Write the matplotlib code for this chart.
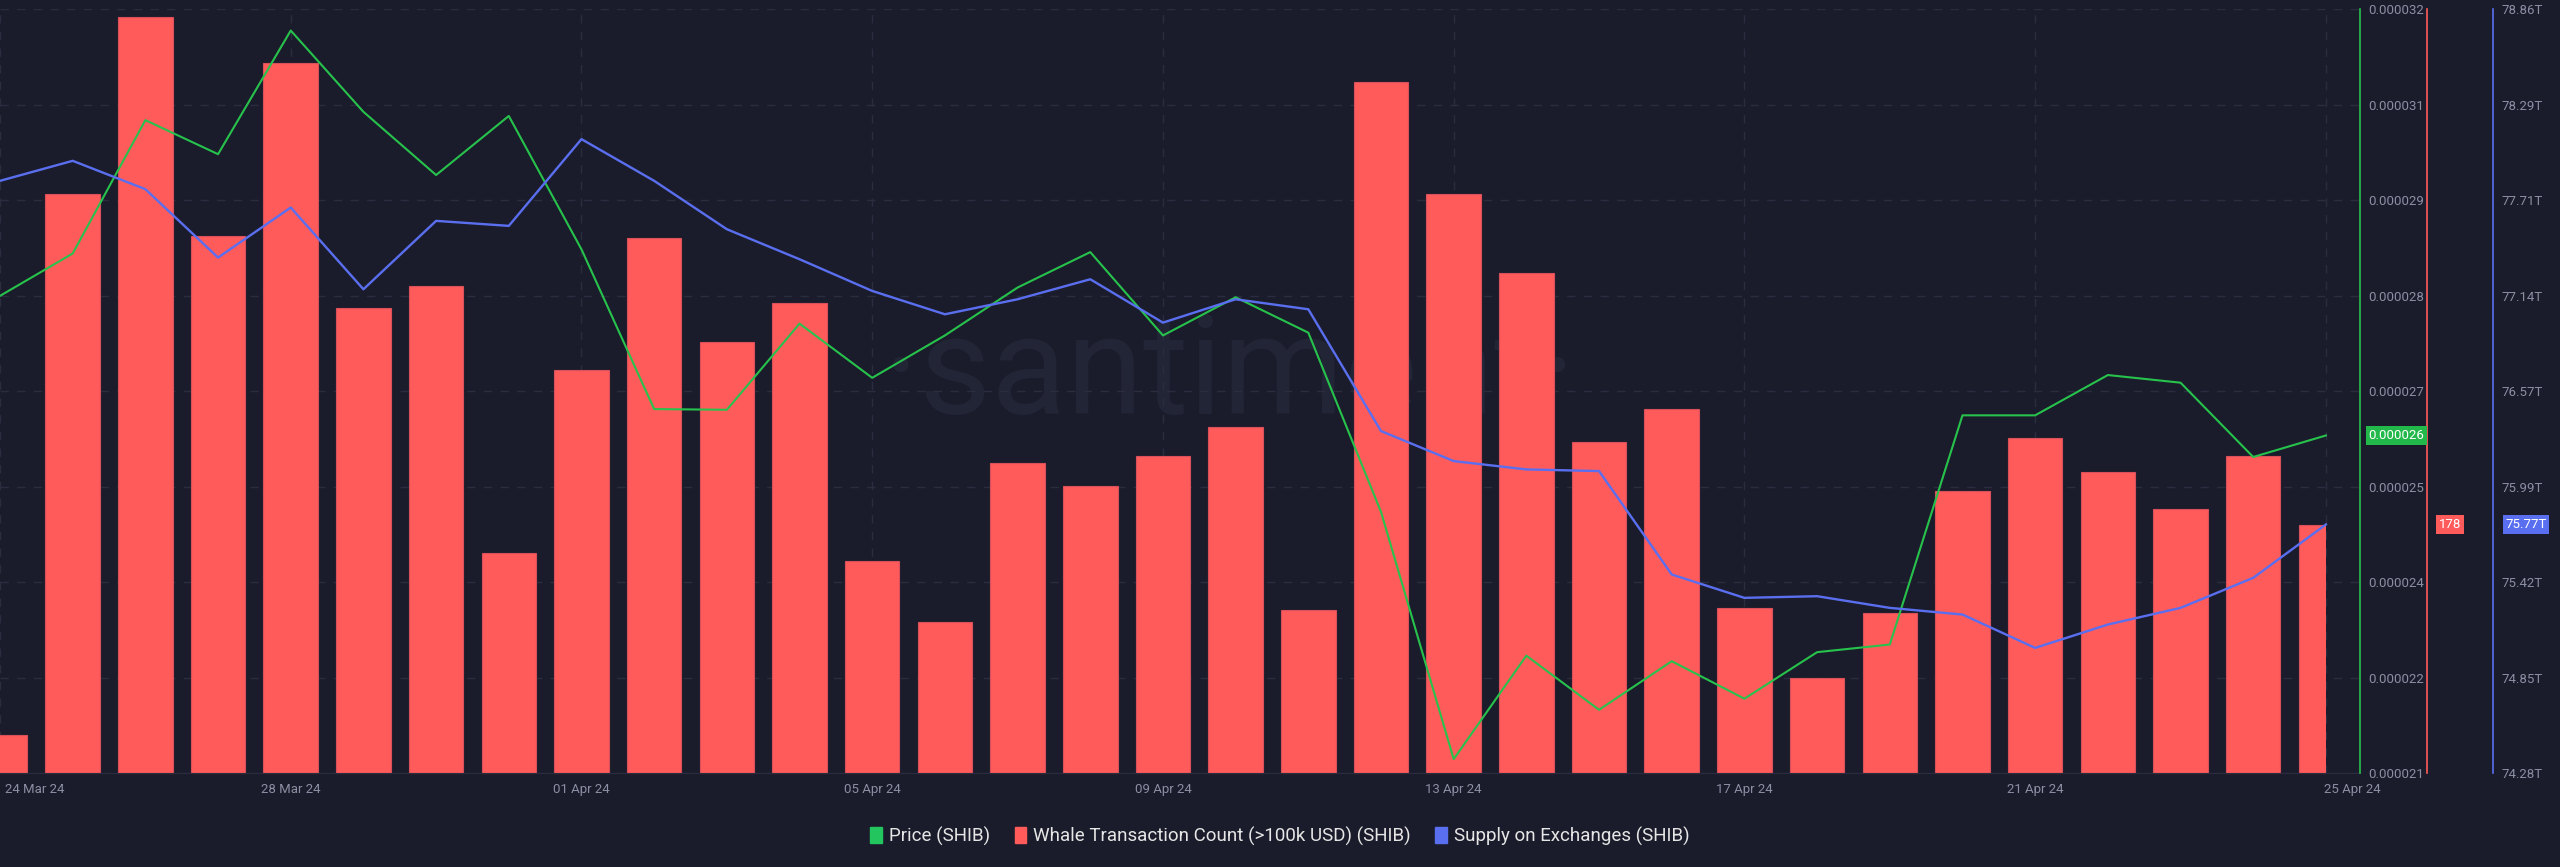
import numpy as np
import pandas as pd
import matplotlib
matplotlib.use('Agg')
import matplotlib.pyplot as plt
import matplotlib.dates as mdates
import matplotlib.transforms as mtransforms
from matplotlib.patches import Rectangle, Patch

plt.rcParams['font.family'] = ['Roboto', 'DejaVu Sans']

# --- data ---
dates = pd.date_range('2024-03-24', '2024-04-25', freq='D')
whale_count = [27, 415, 542, 385, 509, 333, 349, 158, 289, 383, 309, 337, 152,
               108, 222, 206, 227, 248, 117, 495, 415, 358, 237, 261, 118, 68,
               115, 202, 240, 216, 189, 227, 178]
price_e6 = [27.87, 28.48, 30.40, 29.91, 31.69, 30.52, 29.61, 30.46, 28.54,
            26.24, 26.23, 27.47, 26.69, 27.30, 27.99, 28.50, 27.30, 27.85,
            27.34, 24.76, 21.20, 22.69, 21.91, 22.61, 22.07, 22.74, 22.85,
            26.15, 26.15, 26.73, 26.62, 25.55, 25.86]
supply_t = [77.83, 77.95, 77.78, 77.37, 77.67, 77.18, 77.59, 77.56, 78.08,
            77.83, 77.54, 77.36, 77.17, 77.03, 77.12, 77.24, 76.98, 77.12,
            77.06, 76.33, 76.15, 76.10, 76.09, 75.47, 75.33, 75.34, 75.27,
            75.23, 75.03, 75.17, 75.27, 75.45, 75.77]

whale_ticks = ['0', '68.427', '136', '205', '273', '342', '410', '478', '547']
price_ticks = ['0.000021', '0.000022', '0.000024', '0.000025', '0.000027',
               '0.000028', '0.000029', '0.000031', '0.000032']
supply_ticks = ['74.28T', '74.85T', '75.42T', '75.99T', '76.57T', '77.14T',
                '77.71T', '78.29T', '78.86T']

BG = '#1b1c2b'
GRID = '#2a2d3f'
TXT = '#8b8fa3'
RED = '#ff5b5b'
GREEN = '#27c24c'
BLUE = '#5a6ff0'

x = mdates.date2num(dates)
price = np.array(price_e6) * 1e-6

fig = plt.figure(figsize=(25.6, 8.67), dpi=100, facecolor=BG)
ax = fig.add_axes([0, 0.1084, 0.9219, 0.8812], facecolor=BG)
ax.set_xlim(x[0], x[0] + 32.47)

# watermark
ax.text(0.521, 0.52, '\u00b7santiment\u00b7', transform=ax.transAxes,
        ha='center', va='center', fontsize=100, color='#222536', zorder=0)

# whale bars (base axis, red spine)
bars = ax.bar(x, whale_count, width=0.75, color=RED, edgecolor='#d9505a',
              linewidth=0.8, zorder=2)
clip = Rectangle((x[0], -1e4), x[-1] - x[0], 2e4, transform=ax.transData)
for b in bars:
    b.set_clip_path(clip)
whale_max = 547.416
ax.set_ylim(0, whale_max)
ax.set_yticks(np.linspace(0, whale_max, 9))
ax.set_yticklabels(whale_ticks)
ax.yaxis.tick_right()
ax.spines['right'].set_position(('axes', 1.0284))
ax.spines['right'].set_color(RED)
ax.spines['right'].set_linewidth(1.2)
for s in ['left', 'top']:
    ax.spines[s].set_visible(False)
ax.spines['bottom'].set_color(GRID)
ax.tick_params(axis='y', length=0, pad=6, colors=TXT, labelsize=9.5,
               left=False, labelleft=False)

ax.set_xticks(x[::4])
ax.set_xticklabels([d.strftime('%d %b %y') for d in dates[::4]])
ax.tick_params(axis='x', length=0, pad=7, colors=TXT, labelsize=9.5)
xl = ax.get_xticklabels()
xl[0].set_ha('left')
xl[0].set_transform(xl[0].get_transform() +
                    mtransforms.ScaledTranslation(0.05, 0, fig.dpi_scale_trans))
xl[-1].set_transform(xl[-1].get_transform() +
                     mtransforms.ScaledTranslation(0.26, 0, fig.dpi_scale_trans))
ax.grid(True, ls=(0, (6, 6)), color=GRID, lw=1, zorder=1)
ax.set_axisbelow(True)

# price (green spine)
axp = ax.twinx()
axp.plot(x, price, color=GREEN, lw=1.5, zorder=3)
axp.set_ylim(21e-6, 32e-6)
axp.set_yticks(np.linspace(21e-6, 32e-6, 9))
axp.set_yticklabels(price_ticks)
axp.spines['right'].set_color(GREEN)
axp.spines['right'].set_linewidth(1.2)
for s in ['left', 'top', 'bottom']:
    axp.spines[s].set_visible(False)
axp.tick_params(axis='y', length=0, pad=6, colors=TXT, labelsize=9.5,
                left=False, labelleft=False)

# supply on exchanges (blue spine)
axs = ax.twinx()
axs.plot(x, supply_t, color=BLUE, lw=1.7, zorder=3)
axs.set_ylim(74.28, 78.86)
axs.set_yticks(np.linspace(74.28, 78.86, 9))
axs.set_yticklabels(supply_ticks)
axs.spines['right'].set_position(('axes', 1.0564))
axs.spines['right'].set_color(BLUE)
axs.spines['right'].set_linewidth(1.2)
for s in ['left', 'top', 'bottom']:
    axs.spines[s].set_visible(False)
axs.tick_params(axis='y', length=0, pad=6, colors=TXT, labelsize=9.5,
                left=False, labelleft=False)

# last-value tags
def tag(axis, xpos, val, text, color):
    tr = mtransforms.blended_transform_factory(axis.transAxes, axis.transData)
    axis.text(xpos, val, text, transform=tr, ha='left', va='center',
              fontsize=9.5, color='white', zorder=10, clip_on=False,
              bbox=dict(boxstyle='square,pad=0.2', fc=color, ec='none'))

tag(axp, 1.0035, price[-1], '0.000026', '#22b84a')
tag(ax, 1.0335, whale_count[-1], str(whale_count[-1]), RED)
tag(axs, 1.0615, supply_t[-1], f'{supply_t[-1]:.2f}T', BLUE)

# legend
handles = [Patch(color='#22c55e'), Patch(color=RED), Patch(color=BLUE)]
labels = ['Price (SHIB)', 'Whale Transaction Count (>100k USD) (SHIB)',
          'Supply on Exchanges (SHIB)']
fig.legend(handles, labels, loc='center', bbox_to_anchor=(0.5, 1 - 836 / 867),
           ncol=3, frameon=False, fontsize=13.5, labelcolor='#e6e6e6',
           handlelength=0.6, handleheight=0.9, handletextpad=0.4,
           columnspacing=1.3)

fig.savefig('out.png', dpi=100, facecolor=BG)
